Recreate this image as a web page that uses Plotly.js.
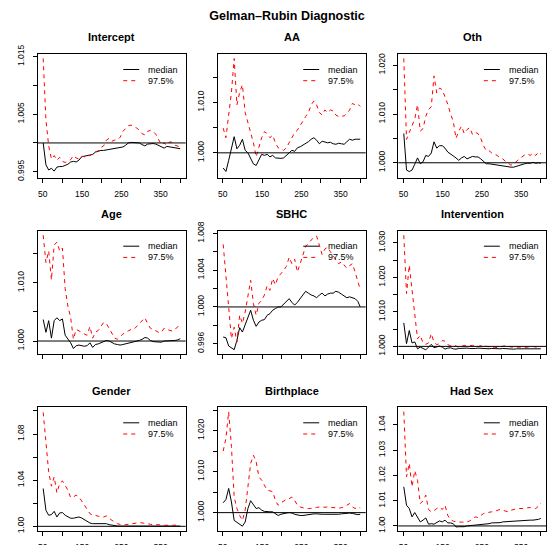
<!DOCTYPE html>
<html>
<head>
<meta charset="utf-8">
<script src="https://cdn.plot.ly/plotly-3.0.1.min.js"></script>
<style>html,body{margin:0;padding:0;background:#fff;}#chart{width:549px;height:545px;}</style>
</head>
<body>
<div id="chart"></div>
<script>
// ---- data ----
const iterations = [51,58,65,72,79,86,93,100,107,114,121,128,135,142,149,156,163,170,177,184,191,198,205,212,219,226,233,240,247,254,261,268,275,282,289,296,303,310,317,324,331,338,345,352,359,366,373,380,387,394,400];
const seriesNames = ['median', '97.5%'];
const panelTitles = ['Intercept','AA','Oth','Age','SBHC','Intervention','Gender','Birthplace','Had Sex'];

const interceptMedian = [1.0000,0.9962,0.9953,0.9956,0.9951,0.9958,0.9959,0.9959,0.9961,0.9963,0.9967,0.9968,0.9967,0.9970,0.9976,0.9977,0.9977,0.9978,0.9980,0.9984,0.9986,0.9987,0.9987,0.9988,0.9988,0.9989,0.9990,0.9991,0.9992,0.9993,0.9996,1.0000,1.0001,1.0001,1.0000,1.0000,0.9997,0.9995,0.9998,0.9999,0.9999,0.9998,0.9996,0.9993,0.9991,0.9994,0.9993,0.9992,0.9991,0.9990,0.9990];
const interceptQ975 = [1.0147,1.0040,0.9995,0.9972,0.9978,0.9970,0.9975,0.9968,0.9966,0.9968,0.9971,0.9978,0.9974,0.9972,0.9977,0.9976,0.9979,0.9978,0.9982,0.9985,0.9986,0.9992,0.9995,1.0005,1.0008,1.0003,1.0005,1.0005,1.0010,1.0020,1.0025,1.0030,1.0031,1.0029,1.0026,1.0022,1.0016,1.0014,1.0020,1.0022,1.0020,1.0015,1.0006,0.9997,1.0000,0.9996,1.0002,1.0001,0.9996,0.9995,0.9993];

const aaMedian = [0.9970,0.9963,0.9985,1.0010,1.0032,1.0008,1.0015,1.0027,1.0005,1.0000,0.9990,0.9978,0.9975,0.9985,0.9997,0.9995,0.9997,0.9992,0.9995,0.9990,0.9989,0.9989,0.9990,0.9995,1.0000,1.0005,1.0003,1.0010,1.0012,1.0015,1.0018,1.0022,1.0027,1.0030,1.0025,1.0018,1.0023,1.0022,1.0020,1.0021,1.0018,1.0017,1.0019,1.0018,1.0017,1.0022,1.0027,1.0025,1.0027,1.0027,1.0027];
const aaQ975 = [1.0049,1.0030,1.0075,1.0120,1.0187,1.0095,1.0120,1.0135,1.0080,1.0060,1.0040,1.0020,0.9992,1.0010,1.0030,1.0042,1.0038,1.0030,1.0035,1.0020,1.0010,1.0007,1.0005,1.0010,1.0020,1.0030,1.0040,1.0045,1.0055,1.0065,1.0072,1.0080,1.0095,1.0103,1.0095,1.0080,1.0075,1.0085,1.0080,1.0085,1.0083,1.0075,1.0072,1.0073,1.0073,1.0078,1.0085,1.0098,1.0095,1.0097,1.0092];

const othMedian = [1.0060,0.9985,0.9982,0.9985,0.9997,1.0010,0.9998,1.0002,1.0015,1.0013,1.0020,1.0043,1.0030,1.0035,1.0035,1.0030,1.0022,1.0017,1.0014,1.0010,1.0005,1.0010,1.0013,1.0008,1.0010,1.0013,1.0012,1.0012,1.0008,1.0003,0.9998,0.9998,0.9997,0.9996,0.9996,0.9994,0.9993,0.9992,0.9991,0.9991,0.9991,0.9993,0.9995,0.9997,0.9998,0.9999,0.9999,1.0001,0.9999,1.0000,0.9999];
const othQ975 = [1.0214,1.0048,1.0062,1.0078,1.0090,1.0119,1.0065,1.0070,1.0095,1.0109,1.0115,1.0178,1.0143,1.0153,1.0150,1.0135,1.0120,1.0100,1.0085,1.0050,1.0065,1.0075,1.0060,1.0068,1.0072,1.0058,1.0062,1.0060,1.0050,1.0035,1.0025,1.0025,1.0020,1.0018,1.0015,1.0010,1.0008,1.0003,0.9998,0.9995,0.9998,1.0003,1.0008,1.0012,1.0016,1.0018,1.0015,1.0020,1.0015,1.0022,1.0018];

const ageMedian = [1.0037,1.0015,1.0035,1.0005,1.0035,1.0040,1.0035,1.0038,1.0010,1.0003,0.9997,0.9987,0.9992,0.9993,0.9992,0.9991,0.9992,0.9997,0.9989,0.9994,0.9995,0.9997,1.0000,1.0001,1.0000,0.9997,0.9995,0.9994,0.9993,0.9994,0.9995,0.9996,0.9997,0.9998,0.9999,1.0001,1.0003,1.0006,1.0005,1.0001,0.9999,0.9999,0.9999,0.9998,1.0000,1.0000,1.0001,1.0000,1.0001,1.0002,1.0004];
const ageQ975 = [1.0182,1.0135,1.0155,1.0105,1.0165,1.0170,1.0155,1.0160,1.0090,1.0060,1.0040,1.0003,1.0020,1.0018,1.0015,1.0012,1.0010,1.0025,1.0005,1.0015,1.0018,1.0025,1.0032,1.0030,1.0022,1.0012,1.0005,1.0003,1.0008,1.0012,1.0015,1.0018,1.0020,1.0020,1.0025,1.0030,1.0035,1.0040,1.0030,1.0022,1.0020,1.0018,1.0015,1.0015,1.0022,1.0020,1.0018,1.0017,1.0020,1.0025,1.0029];

const sbhcMedian = [0.99673,0.99665,0.99575,0.99553,0.99535,0.99636,0.99775,0.99727,0.9980,0.99891,0.99964,0.99855,0.99789,0.99836,0.99855,0.99862,0.99909,0.99927,0.99964,0.99982,1.0000,1.0000,1.0003,1.0005,1.0009,1.0005,1.0002,1.0005,1.0009,1.0013,1.0017,1.0015,1.0013,1.0012,1.0010,1.0013,1.0015,1.0012,1.0014,1.0015,1.0015,1.0017,1.0016,1.0014,1.0012,1.0010,1.0011,1.0010,1.0009,1.0006,1.0000];
const sbhcQ975 = [1.0068,1.0036,0.9996,0.99655,0.9978,0.99618,0.9991,0.9982,0.99945,1.0011,1.0029,1.00036,0.9991,1.0004,1.0007,1.0013,1.0023,1.0018,1.0031,1.0024,1.0033,1.0036,1.0040,1.0044,1.0054,1.0047,1.0052,1.0038,1.0047,1.0058,1.0066,1.0069,1.0073,1.0076,1.0077,1.0067,1.0057,1.0063,1.0065,1.0060,1.0056,1.0052,1.0047,1.0049,1.0045,1.0042,1.0045,1.0047,1.0038,1.0029,1.0019];

const interventionMedian = [1.0068,1.0008,1.0046,1.0010,1.0013,0.9993,0.9998,0.9993,0.9990,0.9998,1.0006,0.9996,0.9998,1.0001,0.9998,0.9992,0.9995,0.9996,0.9993,0.9992,0.9994,0.9995,0.9996,0.9995,0.9994,0.9993,0.9994,0.9995,0.9994,0.9993,0.9992,0.9993,0.9994,0.9993,0.9992,0.9993,0.9994,0.9993,0.9992,0.9993,0.9992,0.9993,0.9993,0.9992,0.9993,0.9993,0.9992,0.9993,0.9993,0.9992,0.9993];
const interventionQ975 = [1.0322,1.0153,1.0235,1.0167,1.0085,1.0022,1.0032,1.0010,1.0006,1.0010,1.0037,1.0012,1.0005,1.0008,1.0017,1.0015,1.0005,1.0002,1.0005,1.0001,0.9997,1.0000,1.0003,1.0001,1.0002,1.0003,1.0001,0.9999,1.0002,1.0003,1.0000,0.9998,0.9997,0.9996,0.9997,0.9998,1.0000,1.0002,1.0000,0.9998,0.9997,0.9998,0.9999,0.9998,0.9997,0.9998,0.9999,1.0000,0.9998,0.9997,0.9998];

const genderMedian = [1.0328,1.0139,1.0096,1.0101,1.0130,1.0081,1.0116,1.0119,1.0096,1.0081,1.0070,1.0070,1.0078,1.0081,1.0072,1.0058,1.0046,1.0029,1.0023,1.0023,1.0020,1.0020,1.0017,1.0023,1.0014,1.0009,1.0006,1.0003,1.0002,1.0002,1.0003,1.0004,1.0005,1.0006,1.0006,1.0006,1.0006,1.0005,1.0005,1.0004,1.0004,1.0003,1.0003,1.0003,1.0002,1.0002,1.0002,1.0002,1.0002,1.0002,1.0002];
const genderQ975 = [1.0988,1.0690,1.0472,1.0348,1.0429,1.0290,1.0371,1.0394,1.0357,1.0313,1.0249,1.0255,1.0270,1.0255,1.0220,1.0183,1.0139,1.0110,1.0096,1.0096,1.0087,1.0081,1.0081,1.0090,1.0067,1.0052,1.0038,1.0023,1.0017,1.0012,1.0014,1.0017,1.0023,1.0029,1.0032,1.0032,1.0029,1.0029,1.0023,1.0017,1.0017,1.0012,1.0014,1.0012,1.0009,1.0012,1.0009,1.0009,1.0012,1.0009,1.0012];

const birthplaceMedian = [1.0024,1.0032,1.0059,1.0026,0.9981,0.9977,0.9973,0.9967,0.9977,1.0010,1.0029,1.0020,1.0010,1.0012,1.0006,1.0003,1.0002,1.0002,1.0002,0.9998,0.9993,0.9996,0.9998,0.9999,1.0000,0.9999,0.9996,0.9994,0.9993,0.9993,0.9994,0.9996,0.9996,0.9997,0.9997,0.9996,0.9996,0.9996,0.9996,0.9995,0.9995,0.9996,0.9996,0.9997,0.9998,0.9998,0.9999,0.9998,0.9997,0.9995,0.9996];
const birthplaceQ975 = [1.0150,1.0181,1.0246,1.0161,1.0038,1.0010,0.9993,0.9981,1.0006,1.0063,1.0120,1.0140,1.0124,1.0087,1.0079,1.0067,1.0055,1.0053,1.0051,1.0030,1.0018,1.0024,1.0029,1.0032,1.0034,1.0038,1.0030,1.0018,1.0014,1.0012,1.0010,1.0010,1.0010,1.0011,1.0013,1.0014,1.0014,1.0013,1.0014,1.0013,1.0012,1.0011,1.0011,1.0012,1.0014,1.0018,1.0022,1.0014,1.0010,1.0014,1.0011];

const hadSexMedian = [1.0155,1.0082,1.0069,1.0036,1.0053,1.0033,1.0016,1.0023,1.0032,1.0007,1.0009,1.0007,1.0012,1.0020,1.0016,1.0023,1.0012,1.0012,1.0009,0.9996,0.9997,0.9996,0.9997,1.0000,1.0001,1.0003,1.0004,1.0005,1.0005,1.0008,1.0009,1.0009,1.0012,1.0012,1.0013,1.0013,1.0016,1.0017,1.0016,1.0017,1.0019,1.0020,1.0021,1.0020,1.0021,1.0023,1.0023,1.0023,1.0024,1.0026,1.0030];
const hadSexQ975 = [1.0453,1.0195,1.0248,1.0155,1.0219,1.0181,1.0089,1.0099,1.0122,1.0065,1.0056,1.0060,1.0069,1.0075,1.0065,1.0082,1.0042,1.0025,1.0019,1.0016,1.0016,1.0015,1.0016,1.0016,1.0020,1.0029,1.0036,1.0033,1.0042,1.0049,1.0052,1.0053,1.0056,1.0058,1.0062,1.0065,1.0062,1.0058,1.0056,1.0062,1.0066,1.0068,1.0069,1.0068,1.0069,1.0072,1.0073,1.0070,1.0069,1.0078,1.0091];

// tick labels
const xTickValues = [50,100,150,200,250,300,350,400];
const xTickLabels = ['50','','150','','250','','350',''];
const yTicksIntercept = [0.995,1.000,1.005,1.010,1.015];
const yLabelsIntercept = ['0.995','','1.005','','1.015'];
const yTicksAA = [1.000,1.005,1.010,1.015];
const yLabelsAA = ['1.000','','1.010',''];
const yTicksOth = [1.000,1.005,1.010,1.015,1.020];
const yLabelsOth = ['1.000','','1.010','','1.020'];
const yTicksAge = [1.000,1.005,1.010,1.015];
const yLabelsAge = ['1.000','','1.010',''];
const yTicksSBHC = [0.996,0.998,1.000,1.002,1.004,1.006,1.008];
const yLabelsSBHC = ['0.996','','1.000','','1.004','','1.008'];
const yTicksIntervention = [1.000,1.005,1.010,1.015,1.020,1.025,1.030];
const yLabelsIntervention = ['1.000','','1.010','','1.020','','1.030'];
const yTicksGender = [1.00,1.02,1.04,1.06,1.08,1.10];
const yLabelsGender = ['1.00','','1.04','','1.08',''];
const yTicksBirthplace = [1.000,1.005,1.010,1.015,1.020,1.025];
const yLabelsBirthplace = ['1.000','','1.010','','1.020',''];
const yTicksHadSex = [1.00,1.01,1.02,1.03,1.04];
const yLabelsHadSex = ['1.00','1.01','1.02','1.03','1.04'];

// ---- panels ----
const panels = [
  {title: panelTitles[0], med: interceptMedian, q: interceptQ975, yr: [0.99396, 1.01546], yt: yTicksIntercept, yl: yLabelsIntercept},
  {title: panelTitles[1], med: aaMedian, q: aaQ975, yr: [0.99507, 1.0196], yt: yTicksAA, yl: yLabelsAA},
  {title: panelTitles[2], med: othMedian, q: othQ975, yr: [0.99694, 1.0223], yt: yTicksOth, yl: yLabelsOth},
  {title: panelTitles[3], med: ageMedian, q: ageQ975, yr: [0.9977, 1.01897], yt: yTicksAge, yl: yLabelsAge},
  {title: panelTitles[4], med: sbhcMedian, q: sbhcQ975, yr: [0.99484, 1.00829], yt: yTicksSBHC, yl: yLabelsSBHC},
  {title: panelTitles[5], med: interventionMedian, q: interventionQ975, yr: [0.99768, 1.0335], yt: yTicksIntervention, yl: yLabelsIntervention},
  {title: panelTitles[6], med: genderMedian, q: genderQ975, yr: [0.99594, 1.1032], yt: yTicksGender, yl: yLabelsGender},
  {title: panelTitles[7], med: birthplaceMedian, q: birthplaceQ975, yr: [0.99552, 1.02568], yt: yTicksBirthplace, yl: yLabelsBirthplace},
  {title: panelTitles[8], med: hadSexMedian, q: hadSexQ975, yr: [0.998, 1.047], yt: yTicksHadSex, yl: yLabelsHadSex}
];

// ---- geometry (pixels) ----
const W = 549, H = 545;
const colLeft = [37.7, 217.7, 398.3];
const rowTop = [54, 230.7, 407.3];
const boxW = 148, boxH = 123.7;
const FONT = 'Liberation Sans, Arial, Helvetica, sans-serif';

const traces = [];
const layout = {
  width: W, height: H, autosize: false,
  margin: {l: 0, r: 0, t: 0, b: 0, pad: 0},
  paper_bgcolor: '#ffffff', plot_bgcolor: '#ffffff',
  showlegend: false,
  font: {family: FONT, color: '#000', size: 9},
  title: {text: 'Gelman\u2013Rubin Diagnostic', x: 287/W, y: 1 - 16/H, xanchor: 'center', yanchor: 'middle',
          xref: 'paper', yref: 'container', font: {family: FONT, size: 12.5, weight: 'bold', color: '#000'}},
  shapes: [], annotations: []
};

panels.forEach((p, i) => {
  const r = Math.floor(i / 3), c = i % 3;
  const n = i === 0 ? '' : String(i + 1);
  const xa = 'x' + n, ya = 'y' + n;
  const left = colLeft[c], top = rowTop[r];
  layout['xaxis' + n] = {
    domain: [left / W, (left + boxW) / W], anchor: ya,
    range: [37.04, 413.96], tickmode: 'array', tickvals: xTickValues,
    ticktext: r === 1 ? xTickValues.map(() => '') : xTickLabels,
    ticks: 'outside', ticklen: 4, tickwidth: 1, tickcolor: '#000',
    showline: true, mirror: true, linecolor: '#000', linewidth: 1,
    showgrid: false, zeroline: false, ticklabelstandoff: 4,
    tickfont: {family: FONT, size: 8.5, color: '#000'}, fixedrange: true
  };
  layout['yaxis' + n] = {
    domain: [1 - (top + boxH) / H, 1 - top / H], anchor: xa,
    range: p.yr, tickmode: 'array', tickvals: p.yt, ticktext: p.yl, tickangle: -90,
    ticks: 'outside', ticklen: 4, tickwidth: 1, tickcolor: '#000',
    showline: true, mirror: true, linecolor: '#000', linewidth: 1,
    showgrid: false, zeroline: false, ticklabelstandoff: 5,
    tickfont: {family: FONT, size: 8.5, color: '#000'}, fixedrange: true
  };
  traces.push({x: iterations, y: p.med, xaxis: xa, yaxis: ya, type: 'scatter', mode: 'lines',
               name: seriesNames[0], line: {color: '#000000', width: 1}, hoverinfo: 'skip'});
  traces.push({x: iterations, y: p.q, xaxis: xa, yaxis: ya, type: 'scatter', mode: 'lines',
               name: seriesNames[1], line: {color: '#ff0000', width: 1, dash: '4px,4px'}, hoverinfo: 'skip'});
  // reference line at 1
  layout.shapes.push({type: 'line', xref: xa + ' domain', yref: ya, x0: 0, x1: 1, y0: 1, y1: 1,
                      line: {color: '#000', width: 1}});
  // panel title
  layout.annotations.push({text: p.title, xref: 'paper', yref: 'paper', x: (left + boxW / 2) / W,
                           y: 1 - (top - 16.7) / H, xanchor: 'center', yanchor: 'middle', showarrow: false,
                           font: {family: FONT, size: 11, weight: 'bold', color: '#000'}});
  // legend (R style, no box)
  const legY = [1 - 15.5 / boxH, 1 - 26.7 / boxH];
  const legStyle = [{color: '#000', width: 1}, {color: '#ff0000', width: 1, dash: '4px,4px'}];
  for (let k = 0; k < 2; k++) {
    layout.shapes.push({type: 'line', xref: xa + ' domain', yref: ya + ' domain',
                        x0: 0.578, x1: 0.686, y0: legY[k], y1: legY[k], line: legStyle[k]});
    layout.annotations.push({text: seriesNames[k], xref: xa + ' domain', yref: ya + ' domain',
                             x: 0.733, y: legY[k], xanchor: 'left', yanchor: 'middle', showarrow: false,
                             font: {family: FONT, size: 9, color: '#000'}});
  }
});

Plotly.newPlot('chart', traces, layout, {displayModeBar: false, staticPlot: true});
</script>
</body>
</html>
